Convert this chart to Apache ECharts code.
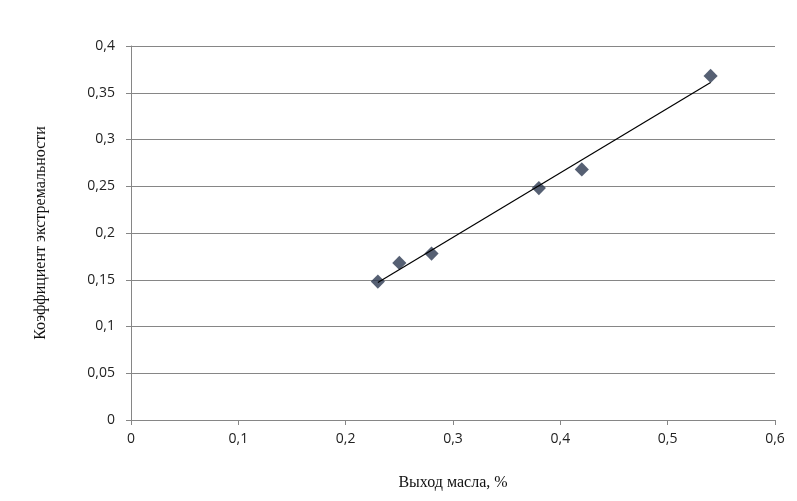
<!DOCTYPE html>
<html>
<head>
<meta charset="utf-8">
<script src="https://cdn.jsdelivr.net/npm/echarts@6/dist/echarts.min.js"></script>
<style>
  html, body { margin: 0; padding: 0; background: #fff; }
  #chart { width: 797px; height: 501px; }
</style>
</head>
<body>
<div id="chart"></div>
<script>
// выход масла, %
const oilYield = [0.23, 0.25, 0.28, 0.38, 0.42, 0.54]
// коэффициент экстремальности
const extremeCoef = [0.148, 0.168, 0.178, 0.248, 0.268, 0.368]
// линия тренда (концы)
const trendX = [0.23, 0.54]
const trendY = [0.147, 0.361]

const comma = v => String(+v.toFixed(2)).replace('.', ',')

const chart = echarts.init(document.getElementById('chart'))
const option = {
  animation: false,
  grid: { left: 131, right: 22, top: 46, bottom: 81 },
  xAxis: {
    type: 'value',
    min: 0,
    max: 0.6,
    interval: 0.1,
    name: 'Выход масла, %',
    nameLocation: 'middle',
    nameGap: 55,
    nameTextStyle: { fontFamily: 'Liberation Serif', fontSize: 16, color: '#111' },
    axisLine: { lineStyle: { color: '#868686' } },
    axisTick: { show: true, length: 5, lineStyle: { color: '#868686' } },
    axisLabel: { formatter: comma, margin: 12, fontFamily: 'Open Sans', fontSize: 14, color: '#222' },
    splitLine: { show: false }
  },
  yAxis: {
    type: 'value',
    min: 0,
    max: 0.4,
    interval: 0.05,
    name: 'Коэффициент экстремальности',
    nameLocation: 'middle',
    nameGap: 82,
    nameTextStyle: { fontFamily: 'Liberation Serif', fontSize: 16, color: '#111' },
    axisLine: { show: true, lineStyle: { color: '#868686' } },
    axisTick: { show: true, length: 5, lineStyle: { color: '#868686' } },
    axisLabel: { formatter: comma, margin: 16, fontFamily: 'Open Sans', fontSize: 14, color: '#222' },
    splitLine: { lineStyle: { color: '#868686', width: 1 } }
  },
  series: [
    {
      name: 'тренд',
      type: 'line',
      data: trendX.map((x, i) => [x, trendY[i]]),
      symbol: 'none',
      lineStyle: { color: '#000', width: 1.2 },
      z: 3
    },
    {
      name: 'данные',
      type: 'scatter',
      data: oilYield.map((x, i) => [x, extremeCoef[i]]),
      symbol: 'rect',
      symbolSize: 10,
      symbolRotate: 45,
      itemStyle: { color: '#2c3850' },
      z: 2
    }
  ]
}
chart.setOption(option)
</script>
</body>
</html>
